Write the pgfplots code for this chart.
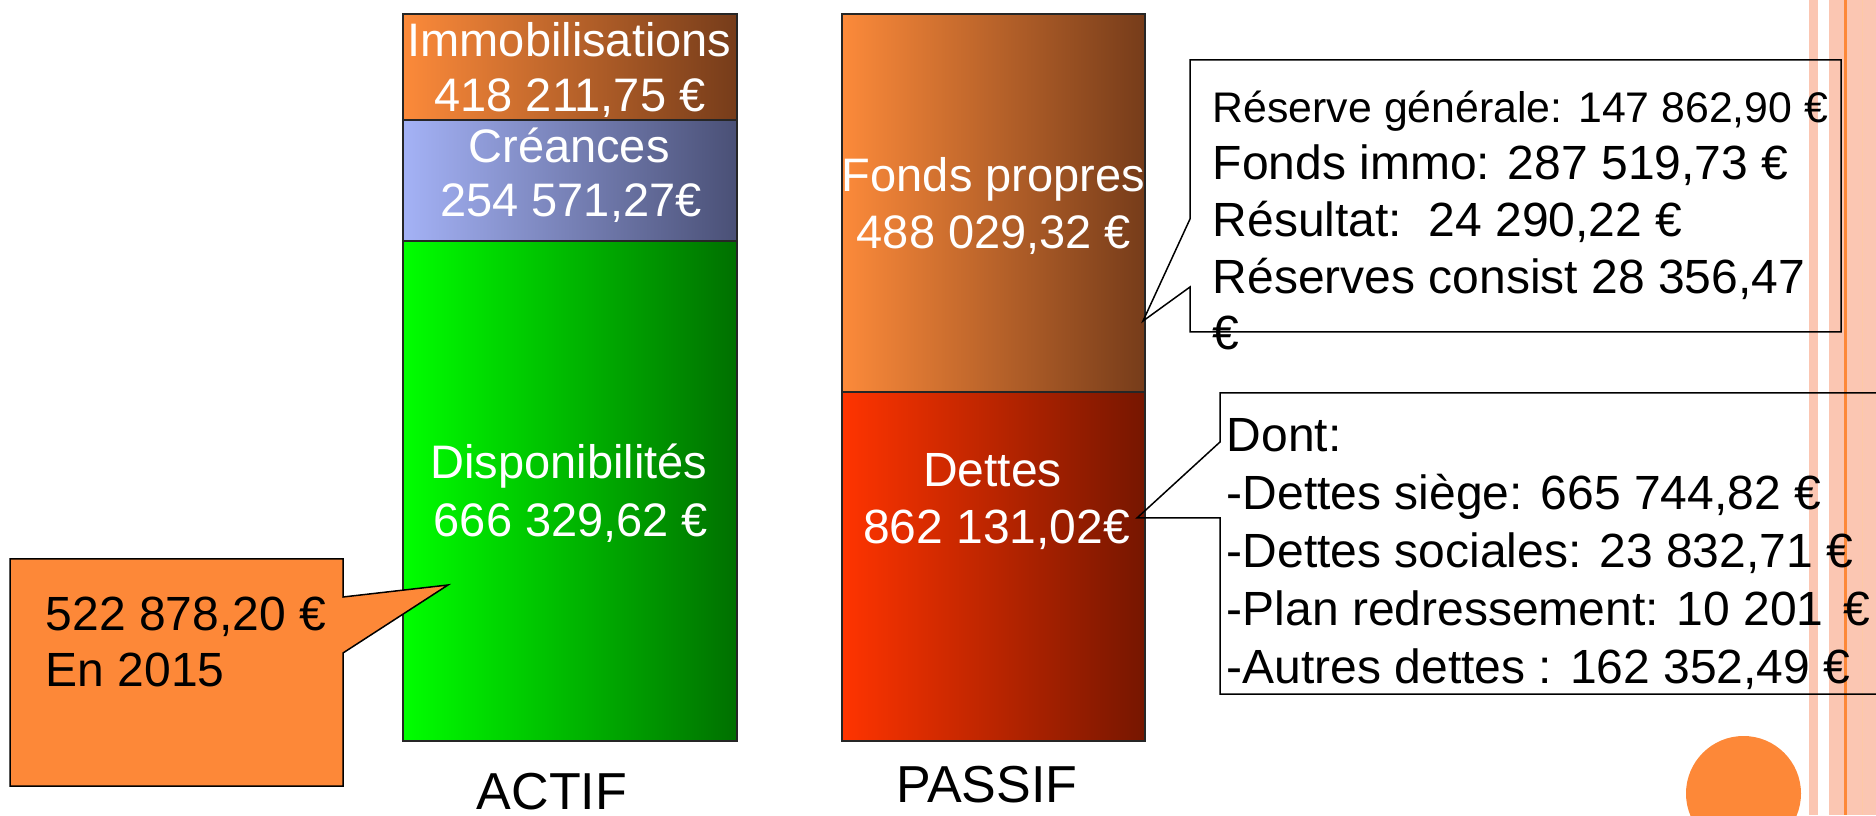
\documentclass[border=0pt]{standalone}
\usepackage{fontspec}
\setmainfont{Liberation Sans}
\usepackage{pgfplots}
\pgfplotsset{compat=1.18}
\definecolor{OrL}{RGB}{252,138,58}
\definecolor{OrR}{RGB}{118,60,26}
\definecolor{BlL}{RGB}{164,178,246}
\definecolor{BlR}{RGB}{74,80,118}
\definecolor{GrL}{RGB}{0,255,0}
\definecolor{GrR}{RGB}{0,112,0}
\definecolor{ReL}{RGB}{255,52,0}
\definecolor{ReR}{RGB}{118,22,0}
\definecolor{Orange}{RGB}{253,136,56}
\definecolor{Salmon}{RGB}{251,198,178}
\begin{document}
\begin{tikzpicture}
\pgfplotsset{base/.style={at={(0,0)},anchor=south west,scale only axis,
  width=469pt,height=203.75pt,xmin=0,xmax=1876,ymin=-74,ymax=741,
  hide axis,ybar stacked,clip=false},
  seg/.style={draw=black!85,line width=0.375pt}}
% decorative stripes (pixel coordinates)
\begin{scope}[x=0.25pt,y=-0.25pt,yshift=203.75pt]
\fill[Salmon] (1809,0) rectangle (1818,815);
\fill[Salmon] (1829,0) rectangle (1876,815);
\fill[Orange] (1843.5,0) rectangle (1846.5,815);
\draw[Orange!45,line width=0.25pt] (1862,0) -- (1862,815);
\end{scope}
% ACTIF (heights as drawn)
\begin{axis}[base,bar width=334]
\addplot[seg,left color=GrL,right color=GrR] coordinates {(570,500)};
\addplot[seg,left color=BlL,right color=BlR] coordinates {(570,121)};
\addplot[seg,left color=OrL,right color=OrR] coordinates {(570,106)};
\end{axis}
% PASSIF
\begin{axis}[base,bar width=303]
\addplot[seg,left color=ReL,right color=ReR] coordinates {(993.5,349)};
\addplot[seg,left color=OrL,right color=OrR] coordinates {(993.5,378)};
\end{axis}
% annotations (pixel coordinates)
\begin{scope}[x=0.25pt,y=-0.25pt,yshift=203.75pt]
\clip (0,0) rectangle (1876,815);
\tikzset{bt/.style={text=white,inner sep=0pt,anchor=base,font=\fontsize{11.75}{14}\selectfont},
  ct/.style={text=black,inner sep=0pt,anchor=base west,font=\fontsize{12}{14}\selectfont}}
% bar labels
\node[bt] at (569.5,57) {Immobilisations};
\node[bt] at (570,112) {418 211,75 €};
\node[bt] at (569,163) {Créances};
\node[bt] at (571,217) {254 571,27€};
\node[bt] at (569,479) {Disponibilités};
\node[bt] at (571,537) {666 329,62 €};
\node[bt] at (993.5,192) {Fonds propres};
\node[bt] at (994,249) {488 029,32 €};
\node[bt,font=\fontsize{12}{14}\selectfont] at (992.5,487) {Dettes};
\node[bt,font=\fontsize{12}{14}\selectfont] at (996.5,544) {862 131,02€};
% category labels
\node[inner sep=0pt,anchor=base,font=\fontsize{13}{15}\selectfont] at (552,809) {ACTIF};
\node[inner sep=0pt,anchor=base,font=\fontsize{13}{15}\selectfont] at (987,802) {PASSIF};
% left callout
\draw[fill=Orange,line width=0.375pt] (10,559) -- (343,559) -- (343,597) -- (448,585) -- (343,653) -- (343,786) -- (10,786) -- cycle;
\node[ct] at (45,631) {522 878,20 €};
\node[ct] at (45,687) {En 2015};
% top right callout
\draw[line width=0.375pt] (1190,60) -- (1841,60) -- (1841,332) -- (1190,332) -- (1190,287) -- (1143,321) -- (1190,219) -- cycle;
\node[ct,font=\fontsize{10.7}{13}\selectfont] at (1212,123) {Réserve générale: 147 862,90 €};
\node[ct] at (1212,180) {Fonds immo: 287 519,73 €};
\node[ct] at (1212,237) {Résultat:\ \ 24 290,22 €};
\node[ct] at (1212,294) {Réserves consist 28 356,47};
\node[ct] at (1212,350) {€};
% bottom right callout
\draw[line width=0.375pt] (1220,393) -- (1890,393) -- (1890,694) -- (1220,694) -- (1220,518) -- (1137,518) -- (1220,442) -- cycle;
\node[ct] at (1226,452) {Dont:};
\node[ct] at (1226,510) {-Dettes siège: 665 744,82 €};
\node[ct] at (1226,568) {-Dettes sociales: 23 832,71 €};
\node[ct] at (1226,625) {-Plan redressement: 10 201\hspace{5pt}€};
\node[ct] at (1226,683) {-Autres dettes : 162 352,49 €};
% orange circle
\fill[Orange] (1743.5,793.5) circle (57.5);
\end{scope}
\pgfresetboundingbox
\path (0,0) rectangle (469pt,203.75pt);
\end{tikzpicture}
\end{document}
